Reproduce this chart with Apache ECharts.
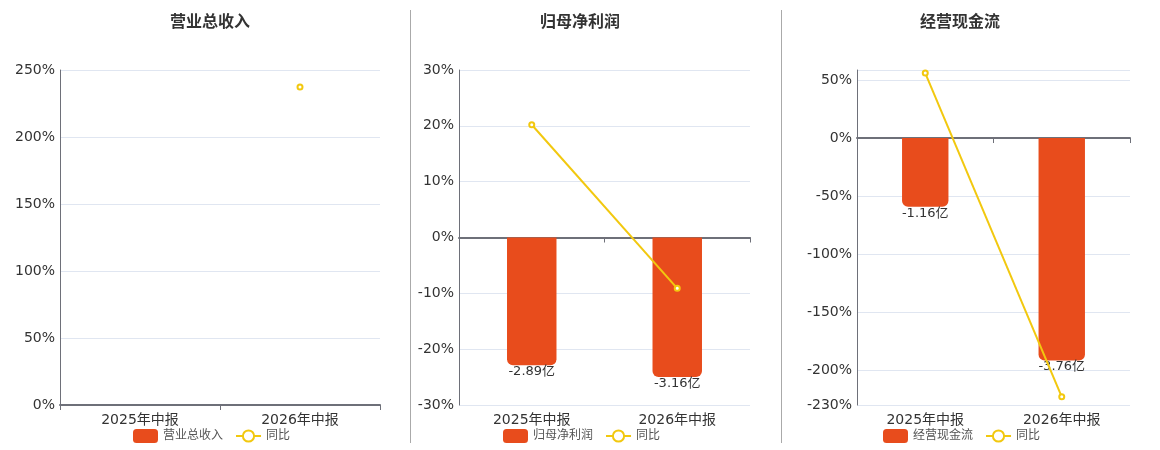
<!DOCTYPE html>
<html>
<head>
<meta charset="utf-8">
<script src="https://cdn.jsdelivr.net/npm/echarts@6/dist/echarts.min.js"></script>
<style>
  html, body { margin: 0; padding: 0; background: #fff; }
  #chart { width: 1160px; height: 450px; }
</style>
</head>
<body>
<div id="chart"></div>
<script>
'use strict'

var categories = ['2025年中报', '2026年中报'];

var revenueName = '营业总收入';
var revenueValues = [null, null];
var revenueYoy = [null, 237.3];

var profitName = '归母净利润';
var profitValues = [-2.89, -3.16];
var profitYoy = [20.2, -9.1];

var cashName = '经营现金流';
var cashValues = [-1.16, -3.76];
var cashYoy = [56.0, -223.0];

// left (percent) axis bounds per panel
var revenueAxis = { min: 0, max: 250, interval: 50 };
var profitAxis = { min: -30, max: 30, interval: 10 };
var cashAxis = { min: -230, max: 58.6 };

var BAR_COLOR = '#E84C1C';
var LINE_COLOR = '#F2C80F';
var TEXT_COLOR = '#333';
var FONT = "'DejaVu Sans', 'Noto Sans CJK SC', sans-serif";

// hidden amount axis, zero aligned with the percent axis
function amountAxis(values, pctAxis) {
    var m = 0;
    values.forEach(function (v) { if (v != null) m = Math.max(m, Math.abs(v)); });
    m = m * 1.2 || 1;
    var lo = pctAxis.min, hi = pctAxis.max;
    if (-lo >= hi) {
        return { min: -m, max: m * hi / -lo };
    }
    return { min: m * lo / hi, max: m };
}

var grids = [
    { left: 60, right: 780, top: 70, bottom: 45 },
    { left: 459, right: 410, top: 70, bottom: 45 },
    { left: 857, right: 30, top: 70, bottom: 45 }
];
var panels = [
    { name: revenueName, values: revenueValues, yoy: revenueYoy, axis: revenueAxis, center: 210 },
    { name: profitName, values: profitValues, yoy: profitYoy, axis: profitAxis, center: 580 },
    { name: cashName, values: cashValues, yoy: cashYoy, axis: cashAxis, center: 960 }
];

var option = {
    animation: false,
    textStyle: { fontFamily: FONT },
    title: [],
    legend: [],
    grid: grids,
    xAxis: [],
    yAxis: [],
    series: [],
    graphic: [
        { type: 'line', shape: { x1: 410.5, y1: 10, x2: 410.5, y2: 443 }, style: { stroke: '#aaa', lineWidth: 1 } },
        { type: 'line', shape: { x1: 781.5, y1: 10, x2: 781.5, y2: 443 }, style: { stroke: '#aaa', lineWidth: 1 } }
    ]
};

panels.forEach(function (p, i) {
    option.title.push({
        text: p.name,
        left: p.center - 5,
        top: 10,
        textAlign: 'center',
        textStyle: { fontSize: 16, fontWeight: 'bold', color: TEXT_COLOR, fontFamily: FONT }
    });
    option.legend.push({
        data: [p.name, '同比'],
        left: p.center - 82,
        top: 424,
        itemWidth: 25,
        itemHeight: 14,
        itemGap: 12,
        textStyle: { fontSize: 12, color: '#555', fontFamily: FONT }
    });
    // labels at the bottom
    option.xAxis.push({
        type: 'category',
        gridIndex: i,
        data: categories,
        position: 'bottom',
        axisLine: { show: false, onZero: false },
        axisTick: { show: false },
        axisLabel: { fontSize: 14, color: TEXT_COLOR, margin: 8, fontFamily: FONT }
    });
    // axis line through zero
    option.xAxis.push({
        type: 'category',
        gridIndex: i,
        data: categories,
        position: 'bottom',
        axisLine: { show: true, onZero: true, lineStyle: { color: '#6E7079', width: 2 } },
        axisTick: { show: true, lineStyle: { color: '#6E7079' } },
        axisLabel: { show: false }
    });
    var pctAxis = {
        type: 'value',
        gridIndex: i,
        min: p.axis.min,
        max: p.axis.max,
        axisLine: { show: true, lineStyle: { color: '#6E7079' } },
        axisTick: { show: false },
        axisLabel: {
            fontSize: 14,
            color: TEXT_COLOR,
            margin: 5,
            fontFamily: FONT,
            showMaxLabel: p.axis.interval ? true : false,
            formatter: function (v) { return v + '%'; }
        },
        splitLine: { lineStyle: { color: '#E0E6F1' } }
    };
    if (p.axis.interval) pctAxis.interval = p.axis.interval;
    option.yAxis.push(pctAxis);
    var amt = amountAxis(p.values, p.axis);
    option.yAxis.push({
        type: 'value',
        gridIndex: i,
        min: amt.min,
        max: amt.max,
        show: false,
        splitLine: { show: false }
    });

    option.series.push({
        name: p.name,
        type: 'bar',
        xAxisIndex: i * 2,
        yAxisIndex: i * 2 + 1,
        data: p.values,
        barWidth: '34%',
        itemStyle: { color: BAR_COLOR, borderRadius: [0, 0, 6, 6] },
        label: {
            show: true,
            position: 'bottom',
            distance: 0,
            fontSize: 13,
            color: TEXT_COLOR,
            fontFamily: FONT,
            formatter: function (d) { return d.value + '亿'; }
        }
    });
    option.series.push({
        name: '同比',
        type: 'line',
        xAxisIndex: i * 2,
        yAxisIndex: i * 2,
        data: p.yoy,
        symbol: 'emptyCircle',
        symbolSize: 5,
        z: 5,
        lineStyle: { color: LINE_COLOR, width: 2 },
        itemStyle: { color: LINE_COLOR, borderWidth: 2 }
    });
});

var myChart = echarts.init(document.getElementById('chart'));
myChart.setOption(option);
</script>
</body>
</html>
